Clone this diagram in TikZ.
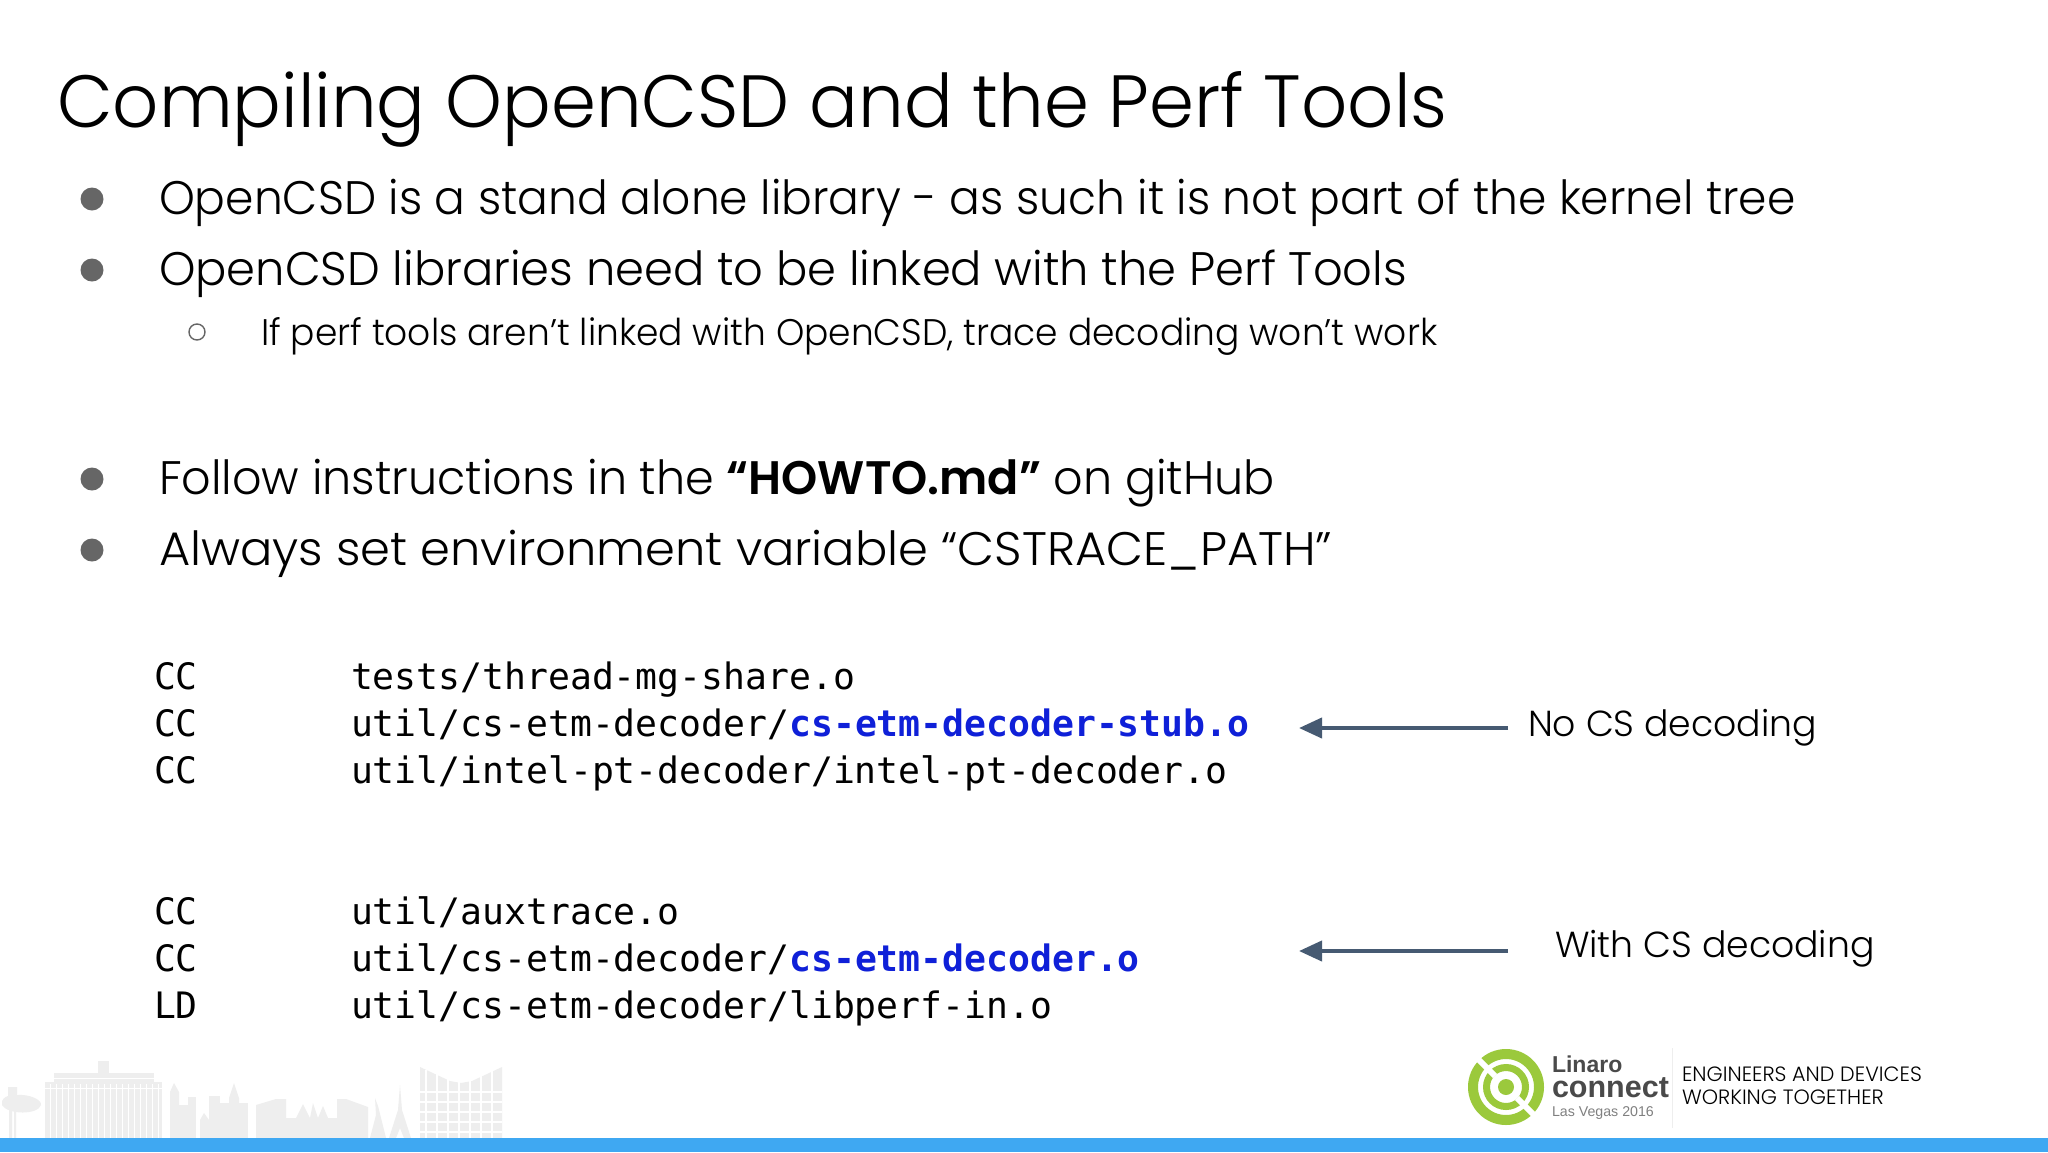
\documentclass[tikz,border=0pt]{standalone}
\usepackage{fontspec}
\usepackage{tikz}
\usetikzlibrary{arrows.meta}
\setmainfont{Poppins Light}[BoldFont=Poppins SemiBold]
\setmonofont{DejaVu Sans Mono}
\newfontfamily\logofont{Liberation Sans}
\definecolor{barblue}{HTML}{3FA8F2}
\definecolor{arrowslate}{HTML}{465A72}
\definecolor{codeblue}{HTML}{0F20D8}
\definecolor{bulletgrey}{HTML}{666666}
\definecolor{linarogreen}{HTML}{9BC93C}
\definecolor{linarogrey}{HTML}{4A4A4A}
\definecolor{cityline}{HTML}{EEEEEE}
\newcommand{\hl}[1]{\textcolor{codeblue}{\bfseries #1}}
\tikzset{
  every node/.style={inner sep=0pt, outer sep=0pt, anchor=base west},
  titletext/.style={font=\fontsize{74}{74}\selectfont\addfontfeature{FakeStretch=.976}},
  bigtext/.style={font=\fontsize{47}{47}\selectfont\addfontfeature{FakeStretch=#1}},
  bigtext/.default=.97,
  subtext/.style={font=\fontsize{37}{37}\selectfont\addfontfeature{FakeStretch=.973}},
  codetext/.style={font=\ttfamily\fontsize{36.4}{36.4}\selectfont},
  notetext/.style={font=\fontsize{36.2}{36.2}\selectfont},
  bigdot/.style={circle, fill=bulletgrey, minimum size=23pt, anchor=center},
  smalldot/.style={circle, draw=bulletgrey, line width=1.4pt, minimum size=16pt, anchor=center},
  pointer/.style={draw=arrowslate, line width=4pt, -{Triangle[length=23pt,width=20pt]}},
  slogan/.style={font=\fontsize{20.7}{20.7}\selectfont}
}
\begin{document}
\begin{tikzpicture}[x=1pt,y=-1pt]
    \useasboundingbox (0,0) rectangle (2048,1152);
    \fill [white] (0,0) rectangle (2048,1152);
    % skyline
    \begin{scope}[cityline]
      \fill (9,1138) rectangle (12,1110) (14,1138) rectangle (16,1110);
      \fill (8,1096) -- (8,1087) -- (17,1087) -- (17,1095) .. controls (30,1094) and (42,1100) .. (41,1105) .. controls (38,1115) and (8,1115) .. (2,1105) .. controls (1,1099) and (5,1097) .. (8,1096) -- cycle;
      \fill (45,1138) rectangle (162,1082);
      \fill (54,1082) rectangle (154,1073);
      \fill (98,1073) rectangle (109,1061);
      \fill (170,1138) -- (170,1092) -- (174,1083) -- (179,1092) -- (179,1138) -- cycle;
      \fill (179,1138) rectangle (188,1105);
      \fill (188,1138) rectangle (196,1097);
      \fill (200,1138) -- (200,1120) -- (204,1113) -- (209,1120) -- (209,1138) -- cycle;
      \fill (209,1138) rectangle (220,1096);
      \fill (220,1138) rectangle (229,1103);
      \fill (229,1138) -- (229,1098) -- (234,1083) -- (239,1098) -- (239,1138) -- cycle;
      \fill (239,1138) rectangle (248,1103);
      \fill (256,1138) -- (256,1105) -- (276,1099) -- (286,1099) -- (286,1138) -- cycle;
      \fill (286,1138) -- (286,1118) -- (296,1118) -- (303,1104) -- (310,1118) -- (313,1103) -- (318,1118) -- (323,1106) -- (328,1118) -- (337,1118) -- (337,1138) -- cycle;
      \fill (337,1138) -- (337,1099) -- (346,1099) -- (368,1107) -- (368,1138) -- cycle;
      \fill (370,1138) -- (376,1115) -- (375,1098) -- (378,1106) -- (381,1118) -- (386,1138) -- cycle;
      \fill (389,1138) -- (398,1110) -- (400,1085) -- (402,1110) -- (411,1138) -- (404,1138) -- (400,1128) -- (396,1138) -- cycle;
      \fill (420,1138) -- (420,1067) -- (450,1081) -- (461,1083) -- (472,1081) -- (502,1067) -- (502,1138) -- cycle;
    \end{scope}
    % windows on the hotels
    \foreach \x in {50,56,...,158} \draw [white, line width=.8pt] (\x,1084) -- (\x,1138);
    \foreach \y in {1078,1088} \draw [white, line width=.8pt] (45,\y) -- (162,\y);
    \foreach \x in {426,437,...,498} \draw [white, line width=1.5pt] (\x,1070) -- (\x,1138);
    \foreach \y in {1092,1102,...,1132} \draw [white, line width=1.5pt] (420,\y) -- (502,\y);
    \fill [barblue] (0,1138) rectangle (2048,1152);
    % header
    \node [titletext] (title) at (57,127) {Compiling OpenCSD and the Perf Tools};
    \node [bigdot] (dot1) at (92,199) {};
    \node [bigtext] (item1) at (159,214) {OpenCSD is a stand alone library - as such it is not part of the kernel tree};
    \node [bigdot] (dot2) at (92,270) {};
    \node [bigtext=.987] (item2) at (159,285) {OpenCSD libraries need to be linked with the Perf Tools};
    \node [smalldot] (dot3) at (197,332) {};
    \node [subtext] (item3) at (261,345) {If perf tools aren’t linked with OpenCSD, trace decoding won’t work};
    \node [bigdot] (dot4) at (92,479) {};
    \node [bigtext=.98] (item4) at (159,494) {Follow instructions in the \textbf{“HOWTO.md”} on gitHub};
    \node [bigdot] (dot5) at (92,550) {};
    \node [bigtext=1.02] (item5) at (159,565) {Always set environment variable “CSTRACE\_PATH”};
    % compiler output
    \node [codetext] (cc1) at (154,689) {CC};
    \node [codetext] (file1) at (351,689) {tests/thread-mg-share.o};
    \node [codetext] (cc2) at (154,736) {CC};
    \node [codetext] (file2) at (351,736) {util/cs-etm-decoder/\hl{cs-etm-decoder-stub.o}};
    \node [codetext] (cc3) at (154,783) {CC};
    \node [codetext] (file3) at (351,783) {util/intel-pt-decoder/intel-pt-decoder.o};
    \node [codetext] (cc4) at (154,924) {CC};
    \node [codetext] (file4) at (351,924) {util/auxtrace.o};
    \node [codetext] (cc5) at (154,971) {CC};
    \node [codetext] (file5) at (351,971) {util/cs-etm-decoder/\hl{cs-etm-decoder.o}};
    \node [codetext] (ld1) at (154,1018) {LD};
    \node [codetext] (file6) at (351,1018) {util/cs-etm-decoder/libperf-in.o};
    % notes
    \node [notetext] (nodecode) at (1528,736) {No CS decoding};
    \node [notetext] (withdecode) at (1555,957) {With CS decoding};
    \coordinate (tail1) at (1508,728);
    \coordinate (tip1) at (1299,728);
    \coordinate (tail2) at (1508,951);
    \coordinate (tip2) at (1299,951);
    \draw [pointer] (tail1) -- (tip1);
    \draw [pointer] (tail2) -- (tip2);
    % logo
    \begin{scope}[linarogreen]
      \fill (1506,1087) circle (8pt);
      \draw [line width=7pt] (1506,1087) circle (19.5pt);
      \draw [line width=10pt] (1506,1087) circle (33pt);
      \draw [white, line width=6pt] (1476,1057) -- (1495,1076);
      \draw [white, line width=6pt] (1517,1098) -- (1536,1117);
    \end{scope}
    \node [font=\logofont\fontsize{23}{23}\bfseries\selectfont, text=linarogrey] (linaro) at (1552,1072) {Linaro};
    \node [font=\logofont\fontsize{30.5}{30.5}\bfseries\selectfont, text=linarogrey] (connect) at (1552,1097) {connect};
    \node [font=\logofont\fontsize{14.2}{14.2}\selectfont, text=gray] (vegas) at (1552,1116) {Las Vegas 2016};
    \draw [cityline, line width=1pt] (1672,1048) -- (1672,1128);
    \node [slogan] (eng1) at (1682,1081) {ENGINEERS AND DEVICES};
    \node [slogan] (eng2) at (1682,1104) {WORKING TOGETHER};
  \end{tikzpicture}
\end{document}
